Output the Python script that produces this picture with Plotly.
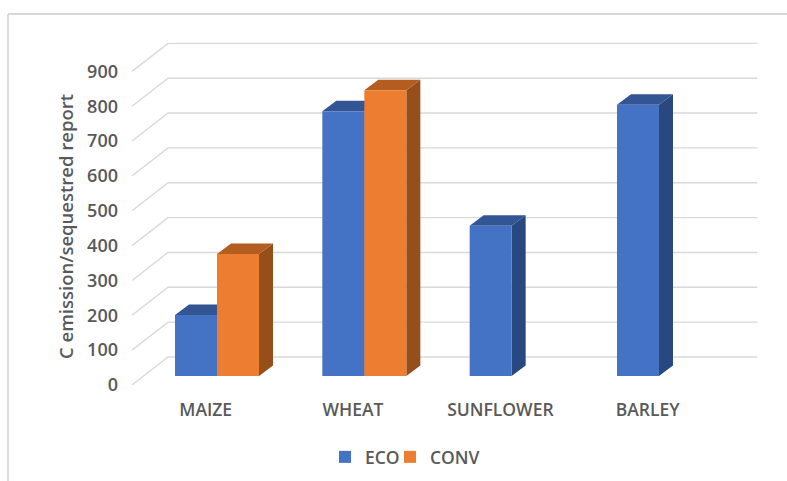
import plotly.graph_objects as go

categories = ["MAIZE", "WHEAT", "SUNFLOWER", "BARLEY"]
eco = [175, 760, 431, 778]
conv = [350, 820, None, None]
y_ticks = [0, 100, 200, 300, 400, 500, 600, 700, 800, 900]
y_title = "C emission/sequestred report"

W, H = 787, 481
L, R, T, B = 122, 780, 15, 394       # plot area in pixels
PX_PER_CAT = 147.33
PX_PER_UNIT = 0.3485
X0_PX, Y0_PX = 205.7, 385            # pixel of category 0 / value 0 on the front plane

x_range = [(L - X0_PX) / PX_PER_CAT, (R - X0_PX) / PX_PER_CAT]
y_range = [(Y0_PX - B) / PX_PER_UNIT, (Y0_PX - T) / PX_PER_UNIT]

# 3-D look, as offsets in data units
WALL_DX, WALL_DY = 36 / PX_PER_CAT, 28 / PX_PER_UNIT
BAR_DX, BAR_DY = 14 / PX_PER_CAT, 10.5 / PX_PER_UNIT
SHIFT_X, SHIFT_Y = 11.3 / PX_PER_CAT, 9 / PX_PER_UNIT
BAR_W = 42 / PX_PER_CAT

BLUE, BLUE_TOP, BLUE_SIDE = "#4472C4", "#335593", "#2A4880"
ORANGE, ORANGE_TOP, ORANGE_SIDE = "#ED7D31", "#B35D20", "#964F1B"
GRID = "#D9D9D9"
TEXT = "#595959"
FONT = "Open Sans"

fig = go.Figure()

# gridlines: floor diagonal plus back wall
gx, gy = [], []
for v in y_ticks:
    gx += [-0.5, -0.5 + WALL_DX, len(categories) - 0.5 + WALL_DX, None]
    gy += [v, v + WALL_DY, v + WALL_DY, None]
fig.add_trace(go.Scatter(x=gx, y=gy, mode="lines", line=dict(color=GRID, width=1.4),
                         hoverinfo="skip", showlegend=False))


def faces(values, x_left_of):
    sx, sy, tx, ty = [], [], [], []
    for i, v in enumerate(values):
        if v is None:
            continue
        x1 = x_left_of(i)
        x2 = x1 + BAR_W
        top = v + SHIFT_Y
        sx += [x2, x2 + BAR_DX, x2 + BAR_DX, x2, x2, None]
        sy += [SHIFT_Y, SHIFT_Y + BAR_DY, top + BAR_DY, top, SHIFT_Y, None]
        tx += [x1, x1 + BAR_DX, x2 + BAR_DX, x2, x1, None]
        ty += [top, top + BAR_DY, top + BAR_DY, top, top, None]
    return sx, sy, tx, ty


for values, left, top_c, side_c in (
    (eco, lambda i: i + SHIFT_X - BAR_W, BLUE_TOP, BLUE_SIDE),
    (conv, lambda i: i + SHIFT_X, ORANGE_TOP, ORANGE_SIDE),
):
    sx, sy, tx, ty = faces(values, left)
    fig.add_trace(go.Scatter(x=sx, y=sy, mode="lines", fill="toself", fillcolor=side_c,
                             line=dict(width=0), hoverinfo="skip", showlegend=False))
    fig.add_trace(go.Scatter(x=tx, y=ty, mode="lines", fill="toself", fillcolor=top_c,
                             line=dict(width=0), hoverinfo="skip", showlegend=False))

# front faces on an overlay pair of axes shifted onto the bars' plane
fig.add_trace(go.Bar(name="ECO", x=categories, y=eco, marker=dict(color=BLUE, line=dict(width=0)),
                     xaxis="x2", yaxis="y2", legend="legend"))
fig.add_trace(go.Bar(name="CONV", x=categories, y=conv, marker=dict(color=ORANGE, line=dict(width=0)),
                     xaxis="x2", yaxis="y2", legend="legend2"))

tick_font = dict(family=FONT, size=18, color=TEXT, weight=600)
cat_font = dict(family=FONT, size=17.5, color=TEXT, weight=600)
legend_font = dict(family=FONT, size=17.5, color=TEXT, weight=600)


def legend_at(swatch_left_px):
    return dict(orientation="h", x=(swatch_left_px - 14 - L) / (R - L), xanchor="left",
                y=(B - 439) / (B - T), yanchor="top", font=legend_font,
                bgcolor="rgba(0,0,0,0)")


fig.update_layout(
    width=W, height=H,
    margin=dict(l=L, r=W - R, t=T, b=H - B, autoexpand=False),
    paper_bgcolor="white", plot_bgcolor="rgba(0,0,0,0)",
    barmode="group", bargap=1 - 2 * BAR_W, bargroupgap=0,
    font=tick_font,
    xaxis=dict(range=x_range, tickmode="array", tickvals=list(range(len(categories))),
               ticktext=categories, showgrid=False, zeroline=False, showline=False, ticks="",
               tickfont=cat_font, automargin=False, ticklabelstandoff=3),
    yaxis=dict(range=y_range, tickmode="array", tickvals=y_ticks, showgrid=False, zeroline=False,
               showline=False, ticks="", tickfont=tick_font, automargin=False, ticklabelstandoff=3),
    xaxis2=dict(type="category", categoryorder="array", categoryarray=categories,
                range=[x_range[0] - SHIFT_X, x_range[1] - SHIFT_X],
                overlaying="x", anchor="y2", visible=False),
    yaxis2=dict(range=[y_range[0] - SHIFT_Y, y_range[1] - SHIFT_Y],
                overlaying="y", anchor="x2", visible=False),
    legend=legend_at(339),
    legend2=legend_at(404),
    annotations=[dict(text=y_title, textangle=-90, showarrow=False,
                      xref="paper", yref="paper", xanchor="center", yanchor="middle",
                      x=(65 - L) / (R - L), y=(B - 227) / (B - T),
                      font=dict(family=FONT, size=18.5, color=TEXT, weight=600))],
    shapes=[
        dict(type="line", xref="paper", yref="paper", layer="below",
             x0=(8 - L) / (R - L), x1=(W - L) / (R - L),
             y0=(B - 14) / (B - T), y1=(B - 14) / (B - T),
             line=dict(color=GRID, width=2)),
        dict(type="line", xref="paper", yref="paper", layer="below",
             x0=(8 - L) / (R - L), x1=(8 - L) / (R - L),
             y0=(B - 14) / (B - T), y1=(B - H) / (B - T),
             line=dict(color=GRID, width=2)),
    ],
)

fig.write_html("out.html", config=dict(displayModeBar=False),
               post_script="document.body.style.margin='0';")
